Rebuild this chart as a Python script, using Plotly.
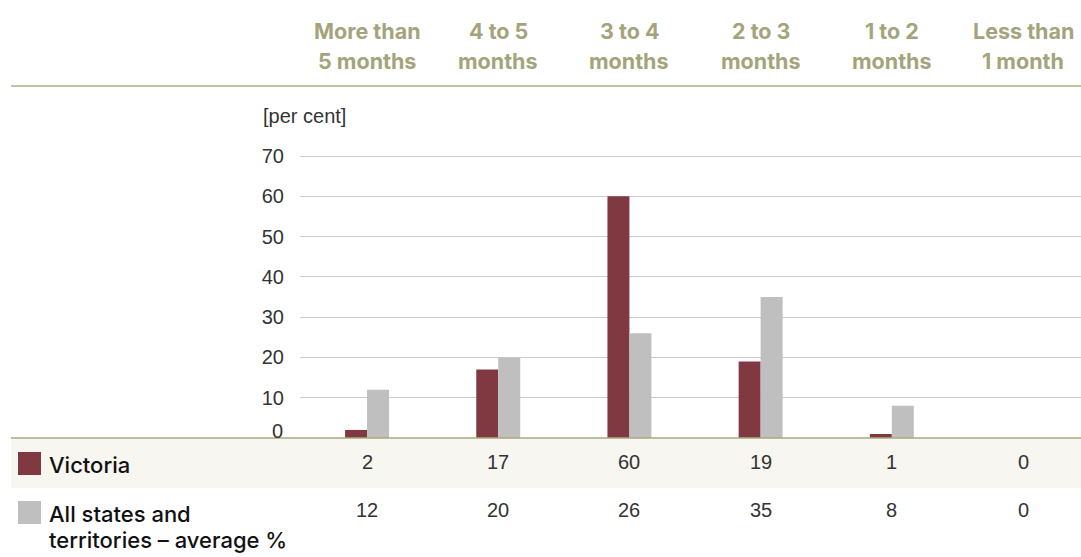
import plotly.graph_objects as go

# Time taken, share of cases per duration band
categories = ["More than<br>5 months", "4 to 5<br>months", "3 to 4<br>months",
              "2 to 3<br>months", "1 to 2<br>months", "Less than<br>1 month"]
victoria = [2, 17, 60, 19, 1, 0]
all_states = [12, 20, 26, 35, 8, 0]
series_names = ["Victoria", "All states and<br>territories – average %"]
y_ticks = [10, 20, 30, 40, 50, 60, 70]

W, H = 1081, 557
MAROON = "#813941"
GREY = "#BFBFBF"
OLIVE = "#A4A47C"
TEXT = "#333333"
BODY_FONT = "Liberation Sans, Arial, sans-serif"
LABEL_FONT = "Inter, Liberation Sans, Arial, sans-serif"


def py(p):
    """Pixel row from the top -> paper y."""
    return (H - p) / H


def px(p):
    """Pixel column from the left -> paper x."""
    return p / W


fig = go.Figure()
fig.add_trace(go.Bar(x=categories, y=victoria, name=series_names[0],
                     marker=dict(color=MAROON, line=dict(width=0)), showlegend=False))
fig.add_trace(go.Bar(x=categories, y=all_states, name=series_names[1],
                     marker=dict(color=GREY, line=dict(width=0)), showlegend=False))

annotations = []
# Column headers above the plot, one annotation per line
for c in categories:
    for k, line in enumerate(c.split("<br>")):
        annotations.append(dict(x=c, xref="x", y=py(31 + 30 * k), yref="paper",
                                text=f"<b>{line}</b>", showarrow=False,
                                xanchor="center", yanchor="middle",
                                font=dict(family=LABEL_FONT, size=21.5, color=OLIVE)))
# Value rows under the plot
for c, v in zip(categories, victoria):
    annotations.append(dict(x=c, xref="x", y=py(462), yref="paper", text=str(v),
                            showarrow=False, xanchor="center", yanchor="middle",
                            font=dict(family=BODY_FONT, size=20, color=TEXT)))
for c, v in zip(categories, all_states):
    annotations.append(dict(x=c, xref="x", y=py(510), yref="paper", text=str(v),
                            showarrow=False, xanchor="center", yanchor="middle",
                            font=dict(family=BODY_FONT, size=20, color=TEXT)))
# Row labels
row_label_y = [[465], [514, 540]]
for name, ys in zip(series_names, row_label_y):
    for line, yy in zip(name.split("<br>"), ys):
        annotations.append(dict(x=px(47), xref="paper", y=py(yy), yref="paper",
                                text=line, showarrow=False, xanchor="left", yanchor="middle",
                                font=dict(family=LABEL_FONT, size=22, color="#111111",
                                          weight=500)))
# Unit label and the zero tick
annotations.append(dict(x=px(261), xref="paper", y=py(116), yref="paper", text="[per cent]",
                        showarrow=False, xanchor="left", yanchor="middle",
                        font=dict(family=BODY_FONT, size=20, color=TEXT)))
annotations.append(dict(x=px(285), xref="paper", y=py(431), yref="paper", text="0",
                        showarrow=False, xanchor="right", yanchor="middle",
                        font=dict(family=BODY_FONT, size=20, color=TEXT)))

shapes = [
    # shaded first table row
    dict(type="rect", xref="paper", yref="paper", x0=px(11), x1=1, y0=py(488), y1=py(438),
         fillcolor="#F7F6F1", line=dict(width=0), layer="below"),
    # rule under the headers
    dict(type="line", xref="paper", yref="paper", x0=px(11), x1=1, y0=py(86), y1=py(86),
         line=dict(color="#C2C1A3", width=2)),
    # baseline of the bars
    dict(type="line", xref="paper", yref="paper", x0=px(11), x1=1, y0=py(438), y1=py(438),
         line=dict(color="#A9AB7D", width=1.5)),
    # legend swatches
    dict(type="rect", xref="paper", yref="paper", x0=px(18), x1=px(41), y0=py(475), y1=py(452),
         fillcolor=MAROON, line=dict(width=0)),
    dict(type="rect", xref="paper", yref="paper", x0=px(18), x1=px(41), y0=py(524), y1=py(501),
         fillcolor=GREY, line=dict(width=0)),
]

fig.update_layout(
    width=W, height=H,
    margin=dict(l=0, r=0, t=0, b=0, autoexpand=False),
    paper_bgcolor="white", plot_bgcolor="rgba(0,0,0,0)",
    barmode="group", bargap=0.665, bargroupgap=0,
    annotations=annotations, shapes=shapes,
    xaxis=dict(domain=[px(300), 1], range=[-0.511, 5.442], showticklabels=False,
               showgrid=False, zeroline=False, showline=False, ticks=""),
    yaxis=dict(domain=[py(438), py(155)], range=[0, 70.25], tickvals=y_ticks,
               ticktext=[str(t) for t in y_ticks], showgrid=True, gridcolor="#CCCCCC",
               gridwidth=1, zeroline=False, showline=False, ticks="",
               ticklabelstandoff=15,
               tickfont=dict(family=BODY_FONT, size=20, color=TEXT)),
    font=dict(family=BODY_FONT),
)

fig.write_html("out.html")
